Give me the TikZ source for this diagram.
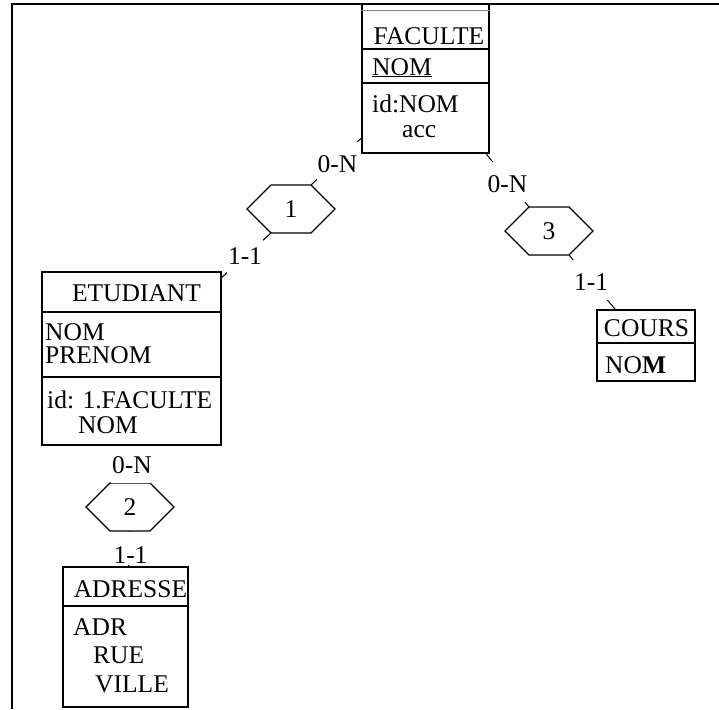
\documentclass[tikz,border=0pt]{standalone}
\usepackage{fontspec}
\setmainfont{Liberation Serif}
\usetikzlibrary{calc}
\begin{document}
\begin{tikzpicture}[x=1pt,y=-1pt,
  every node/.style={font=\fontsize{25.5}{30}\selectfont, inner sep=0pt},
  entity/.style={draw, line width=1.1pt, rectangle, inner sep=0pt},
  divider/.style={line width=1.1pt},
  frameline/.style={line width=1.8pt},
  attr/.style={anchor=base west},
  title/.style={anchor=base},
  role/.style={fill=white, anchor=base, inner xsep=1pt, inner ysep=2pt,
               text height=28pt, text depth=8pt},
  link/.style={line width=1pt},
  pics/relhex/.style={code={
    \draw[line width=1.1pt, line join=miter]
      (-44,0) coordinate (-w) -- (-20,-24) coordinate (-nw) --
      (20,-24) coordinate (-ne) -- (44,0) coordinate (-e) --
      (20,24) coordinate (-se) -- (-20,24) coordinate (-sw) -- cycle;
    \coordinate (-n) at (0,-24);
    \coordinate (-s) at (0,24);
    \node (-num) at (0,0) {#1};
  }}
]
\useasboundingbox (0,0) rectangle (719,709);

% page frame (top and left edges only)
\draw[frameline] (11,4) -- (719,4);
\draw[frameline] (12,4) -- (12,709);

% ---- entity FACULTE
\node[entity, minimum width=127pt, minimum height=149pt] (fac) at (425.5,78.5) {};
\draw[gray, line width=0.8pt] (fac.west |- 0,10) -- (fac.east |- 0,10);
\draw[divider] (fac.west |- 0,49) -- (fac.east |- 0,49);
\draw[divider] (fac.west |- 0,83) -- (fac.east |- 0,83);
\node[title] (facT) at (429,45) {FACULTE};
\node[attr] (facA) at (372,75) {\underline{NOM}};
\node[attr] (facI) at (372,112) {id:NOM};
\node[attr] (facK) at (402,137) {acc};

% ---- entity ETUDIANT
\node[entity, minimum width=179pt, minimum height=173pt] (etu) at (131.5,358.5) {};
\draw[divider] (etu.west |- 0,312) -- (etu.east |- 0,312);
\draw[divider] (etu.west |- 0,377) -- (etu.east |- 0,377);
\node[title] (etuT) at (136.5,301.5) {ETUDIANT};
\node[attr] (etuA1) at (45,340) {NOM};
\node[attr] (etuA2) at (45,363) {PRENOM};
\node[attr] (etuI) at (47,408) {id: 1.FACULTE};
\node[attr] (etuI2) at (78,433) {NOM};

% ---- entity ADRESSE
\node[entity, minimum width=125pt, minimum height=140pt] (adr) at (125.5,637) {};
\draw[divider] (adr.west |- 0,606) -- (adr.east |- 0,606);
\node[title] (adrT) at (130.5,597) {ADRESSE};
\node[attr] (adrA) at (73,635) {ADR};
\node[attr] (adrB) at (93,663) {RUE};
\node[attr] (adrC) at (95,692) {VILLE};

% ---- entity COURS
\node[entity, minimum width=98pt, minimum height=71pt] (crs) at (646,345.5) {};
\draw[divider] (crs.west |- 0,343) -- (crs.east |- 0,343);
\node[title] (crsT) at (646.5,336) {COURS};
\node[attr] (crsA) at (605,373) {NO\textbf{M}};

% ---- relationship types
\pic (r1) at (291,209) {relhex=1};
\pic (r2) at (130,507) {relhex=2};
\pic (r3) at (549,231) {relhex=3};

% ---- roles
\draw[link] (r1-ne) -- (fac);
\draw[link] (r1-sw) -- (etu);
\draw[link] (r3-nw) -- (fac);
\draw[link] (r3-se) -- (crs);
\draw[link] (r2-n) -- (etu);
\draw[link] (r2-s) -- (adr);

% ---- cardinalities
\node[role] (c1f) at (337.5,172) {0-N};
\node[role] (c1e) at (245,264) {1-1};
\node[role] (c3f) at (507.5,192) {0-N};
\node[role] (c3c) at (591,290) {1-1};
\node[role, text height=25.5pt, text depth=8pt, inner ysep=1.5pt] (c2e) at (132,473) {0-N};
\node[role, text height=30pt, text depth=0pt, inner ysep=1.5pt] (c2a) at (130.5,563) {1-1};
\end{tikzpicture}
\end{document}
